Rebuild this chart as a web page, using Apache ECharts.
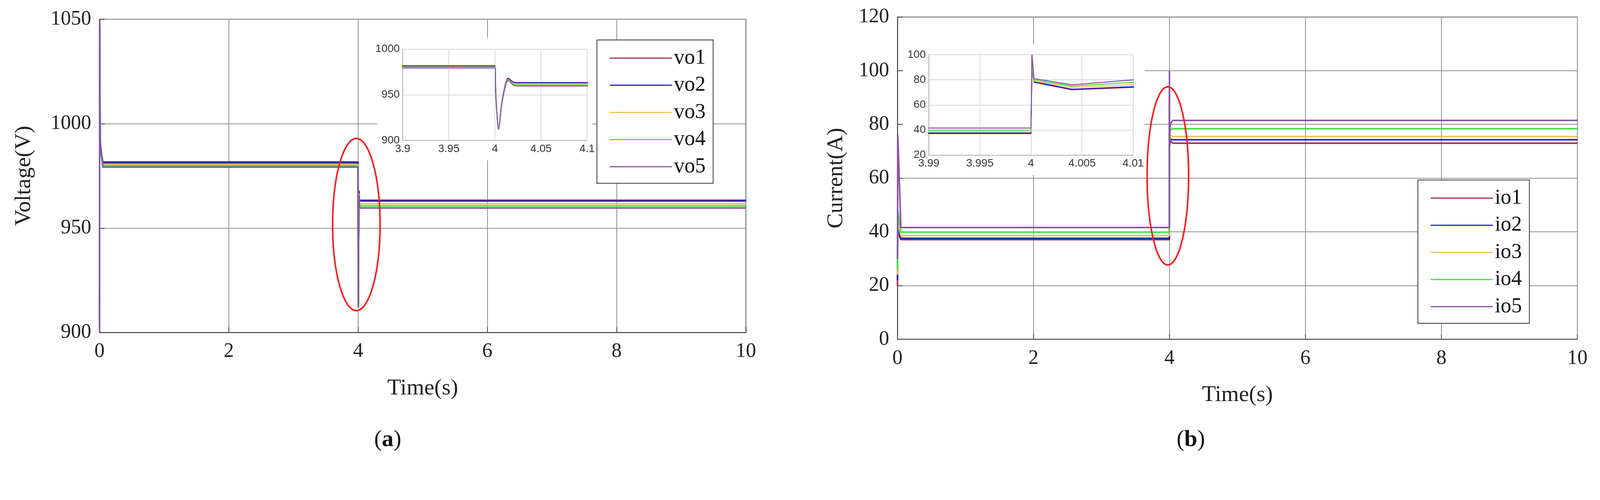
<!DOCTYPE html>
<html><head><meta charset="utf-8">
<script src="https://cdn.jsdelivr.net/npm/echarts@6/dist/echarts.min.js"></script>
<style>html,body{margin:0;padding:0;background:#fff;overflow:hidden}#c{width:100vw;height:100vh}</style>
</head><body><div id="c"></div>
<script>
// ---- data ----
const voltNames = ['vo1','vo2','vo3','vo4','vo5'];
const currNames = ['io1','io2','io3','io4','io5'];
const colors = ['#a3303f','#2222c8','#f0c060','#40e040','#8a55a8'];
const vo1 = [[0,905],[0.002,1048],[0.01,990],[0.05,981.2],[4,981.2],[4.001,950],[4.004,913],[4.008,945],[4.0145,968],[4.02,964],[4.025,963.3],[10,963.3]];
const vo2 = [[0,903],[0.002,1046],[0.01,989],[0.05,981.6],[4,981.6],[4.001,950],[4.004,914],[4.008,945],[4.0145,967.5],[4.02,963.5],[4.025,963.0],[10,963.0]];
const vo3 = [[0,904],[0.002,1045],[0.01,988],[0.05,980.4],[4,980.4],[4.001,949],[4.004,913],[4.008,944],[4.0145,966.5],[4.02,962.5],[4.025,961.6],[10,961.6]];
const vo4 = [[0,902],[0.002,1047],[0.01,988],[0.05,979.8],[4,979.8],[4.001,948],[4.004,912],[4.008,943],[4.0145,966],[4.02,961.5],[4.025,960.6],[10,960.6]];
const vo5 = [[0,900],[0.002,1050],[0.01,992],[0.05,979.2],[4,979.2],[4.001,948],[4.004,912],[4.008,943],[4.0145,965.5],[4.02,960.5],[4.025,959.6],[10,959.6]];
const io1 = [[0,20],[0.005,40],[0.05,37.1],[4,37.1],[4.0001,88],[4.0003,78],[4.004,72],[4.01,74],[4.05,73.0],[10,73.0]];
const io2 = [[0,22],[0.005,42],[0.05,37.6],[4,37.6],[4.0001,90],[4.0003,78.5],[4.004,72.5],[4.01,74.5],[4.05,74.3],[10,74.3]];
const io3 = [[0,24],[0.005,44],[0.05,38.6],[4,38.6],[4.0001,92],[4.0003,79],[4.004,74],[4.01,76],[4.05,75.5],[10,75.5]];
const io4 = [[0,26],[0.005,48],[0.05,39.9],[4,39.9],[4.0001,94],[4.0003,80],[4.004,75],[4.01,78],[4.05,78.4],[10,78.4]];
const io5 = [[0,30],[0.005,76],[0.05,41.6],[4,41.6],[4.0001,100],[4.0003,81],[4.004,76],[4.01,80],[4.05,81.5],[10,81.5]];
const voltData = [vo1,vo2,vo3,vo4,vo5];
const currData = [io1,io2,io3,io4,io5];

const el = document.getElementById('c');
const s = (el.clientWidth || window.innerWidth) / 4243;
const P = v => v * s;

const serif = 'Liberation Serif';
const sans = 'Liberation Sans';
const plain = v => String(+(+v).toFixed(4));
function mainX(gi){return {type:'value',gridIndex:gi,min:0,max:10,interval:2,name:'Time(s)',nameLocation:'middle',nameGap:P(118),
  nameTextStyle:{fontFamily:serif,fontSize:P(60),color:'#222'},
  axisLine:{lineStyle:{color:'#404040',width:2}},axisTick:{inside:true,length:P(14),lineStyle:{color:'#404040',width:2}},
  axisLabel:{fontFamily:serif,fontSize:P(54),color:'#222',margin:P(24),formatter:plain},splitLine:{lineStyle:{color:'#909090',width:2}}};}
function mainY(gi,min,max,intv,name,gap){return {type:'value',gridIndex:gi,min:min,max:max,interval:intv,name:name,nameLocation:'middle',nameGap:P(gap),
  nameTextStyle:{fontFamily:serif,fontSize:P(60),color:'#222'},
  axisLine:{show:true,lineStyle:{color:'#404040',width:2}},axisTick:{show:true,inside:true,length:P(14),lineStyle:{color:'#404040',width:2}},
  axisLabel:{fontFamily:serif,fontSize:P(54),color:'#222',margin:P(22),formatter:plain},splitLine:{lineStyle:{color:'#909090',width:2}}};}
function insetX(gi,min,max,intv){return {type:'value',gridIndex:gi,min:min,max:max,interval:intv,z:4,
  axisLine:{lineStyle:{color:'#b0b0b0',width:2}},axisTick:{show:false},
  axisLabel:{fontFamily:sans,fontSize:P(29),color:'#333',margin:P(8),formatter:plain},splitLine:{lineStyle:{color:'#d8d8d8',width:2}}};}
function insetY(gi,min,max,intv){return {type:'value',gridIndex:gi,min:min,max:max,interval:intv,z:4,
  axisLine:{show:true,lineStyle:{color:'#b0b0b0',width:2}},axisTick:{show:false},
  axisLabel:{fontFamily:sans,fontSize:P(29),color:'#333',margin:P(8),formatter:plain},splitLine:{lineStyle:{color:'#d8d8d8',width:2}}};}

const series = [];
voltData.forEach((d,i)=>{
  series.push({name:voltNames[i],type:'line',xAxisIndex:0,yAxisIndex:0,data:d,showSymbol:false,lineStyle:{width:4,color:colors[i]},itemStyle:{color:colors[i]},z:2});
  series.push({name:voltNames[i],type:'line',xAxisIndex:1,yAxisIndex:1,data:d,smooth:0.3,showSymbol:false,lineStyle:{width:2.5,color:colors[i]},itemStyle:{color:colors[i]},z:6,clip:true});
});
currData.forEach((d,i)=>{
  series.push({name:currNames[i],type:'line',xAxisIndex:2,yAxisIndex:2,data:d,showSymbol:false,lineStyle:{width:4,color:colors[i]},itemStyle:{color:colors[i]},z:2});
  series.push({name:currNames[i],type:'line',xAxisIndex:3,yAxisIndex:3,data:d,showSymbol:false,lineStyle:{width:2.5,color:colors[i]},itemStyle:{color:colors[i]},z:6,clip:true});
});

function legend(names,left,top){return {data:names.map(n=>({name:n})),orient:'vertical',left:P(left),top:P(top),
  backgroundColor:'#fff',borderColor:'#333',borderWidth:2,padding:[P(20),P(20),P(16),P(34)],itemGap:P(16),itemWidth:P(165),itemHeight:3,icon:'rect',
  textStyle:{fontFamily:serif,fontSize:P(56),color:'#111'},selectedMode:false,z:8};}

const option = {
  backgroundColor:'#fff',animation:false,
  grid:[
    {left:P(264),top:P(51),width:P(1714),height:P(830),show:true,borderColor:'#404040',borderWidth:2,backgroundColor:'transparent'},
    {left:P(1068),top:P(130),width:P(489),height:P(242),z:4},
    {left:P(2380),top:P(45),width:P(1803),height:P(854),show:true,borderColor:'#404040',borderWidth:2,backgroundColor:'transparent'},
    {left:P(2463),top:P(145),width:P(542),height:P(266),z:4}
  ],
  xAxis:[mainX(0),insetX(1,3.9,4.1,0.05),mainX(2),insetX(3,3.99,4.01,0.005)],
  yAxis:[mainY(0,900,1050,50,'Voltage(V)',170),insetY(1,900,1000,50),mainY(2,0,120,20,'Current(A)',132),insetY(3,20,100,20)],
  legend:[legend(voltNames,1583,106),legend(currNames,3760,477)],
  graphic:[
    {type:'rect',z:3,shape:{x:P(1000),y:P(100),width:P(570),height:P(325)},style:{fill:'#fff'}},
    {type:'rect',z:3,shape:{x:P(2395),y:P(118),width:P(640),height:P(345)},style:{fill:'#fff'}},
    {type:'ellipse',z:7,shape:{cx:P(945),cy:P(595),rx:P(63),ry:P(228)},style:{fill:null,stroke:'#ff1a1a',lineWidth:4}},
    {type:'ellipse',z:7,shape:{cx:P(3097),cy:P(466),rx:P(55),ry:P(236)},style:{fill:null,stroke:'#ff1a1a',lineWidth:4}},
    {type:'text',z:7,left:P(992),top:P(1135),style:{text:'({b|a})',font:P(62)+'px "Liberation Serif"',fill:'#111',rich:{b:{fontFamily:serif,fontSize:P(62),fontWeight:'bold',fill:'#111'}}}},
    {type:'text',z:7,left:P(3120),top:P(1135),style:{text:'({b|b})',font:P(62)+'px "Liberation Serif"',fill:'#111',rich:{b:{fontFamily:serif,fontSize:P(62),fontWeight:'bold',fill:'#111'}}}}
  ],
  series:series
};
const chart = echarts.init(el,null,{renderer:'canvas'});
chart.setOption(option);
</script></body></html>
